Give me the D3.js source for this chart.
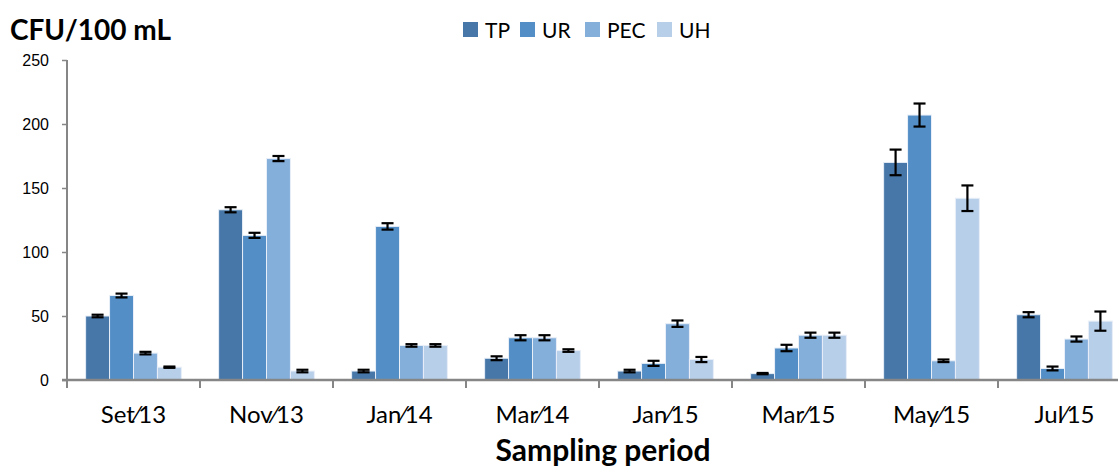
<!DOCTYPE html>
<html>
<head>
<meta charset="utf-8">
<script src="https://cdn.jsdelivr.net/npm/d3@7"></script>
<style>
  body { margin: 0; background: #fff; }
  svg { display: block; font-family: Lato, "Open Sans", sans-serif; }
</style>
</head>
<body>
<svg id="chart"></svg>
<script>
const periods = ['Set\u204413', 'Nov\u204413', 'Jan\u204414', 'Mar\u204414', 'Jan\u204415', 'Mar\u204415', 'May\u204415', 'Jul\u204415'];
const seriesNames = ['TP', 'UR', 'PEC', 'UH'];
const colors = ['#4677a8', '#538fc6', '#85afdb', '#b8cfe9'];

const tpValues  = [50, 133, 7, 17, 7, 5, 170, 51];
const urValues  = [66, 113, 120, 33, 13, 25, 207, 9];
const pecValues = [21, 173, 27, 33, 44, 35, 15, 32];
const uhValues  = [10, 7, 27, 23, 16, 35, 142, 46];

const tpErr  = [1, 2, 1, 1.5, 1, 0.5, 10, 2];
const urErr  = [1.5, 2, 2.5, 2, 2, 2.5, 9, 1.5];
const pecErr = [1, 2, 1, 2, 2.5, 2, 1, 2];
const uhErr  = [0.5, 1, 1, 1, 2, 2, 10, 7.5];

const yTicks = [0, 50, 100, 150, 200, 250];

const allValues = [tpValues, urValues, pecValues, uhValues];
const allErrors = [tpErr, urErr, pecErr, uhErr];

const width = 1118, height = 466;
const margin = { left: 67, top: 60, bottom: 86 };
const bandW = 133;

const svg = d3.select('#chart')
    .attr('width', width)
    .attr('height', height);

const x = d3.scaleBand()
    .domain(periods)
    .range([margin.left, margin.left + bandW * periods.length])
    .paddingInner(0.28)
    .paddingOuter(0.14);

const xSub = d3.scaleBand()
    .domain(seriesNames)
    .range([0, x.bandwidth()]);

const y = d3.scaleLinear()
    .domain([0, 250])
    .range([height - margin.bottom, margin.top]);

// flatten into one record per bar
const bars = [];
periods.forEach((p, i) => {
    seriesNames.forEach((s, j) => {
        bars.push({ period: p, series: s, idx: j, value: allValues[j][i], err: allErrors[j][i] });
    });
});

svg.append('g')
    .selectAll('rect')
    .data(bars)
    .enter()
    .append('rect')
    .attr('x', d => x(d.period) + xSub(d.series))
    .attr('y', d => y(d.value))
    .attr('width', xSub.bandwidth())
    .attr('height', d => y(0) - y(d.value))
    .attr('fill', d => colors[d.idx])
    .attr('stroke', '#e8eff8')
    .attr('stroke-width', 1);

// error bars
const eb = svg.append('g')
    .attr('stroke', '#000')
    .attr('stroke-width', 2.2)
    .selectAll('g')
    .data(bars)
    .enter()
    .append('g')
    .attr('transform', d => `translate(${x(d.period) + xSub(d.series) + xSub.bandwidth() / 2},0)`);

eb.append('line')
    .attr('y1', d => y(d.value + d.err))
    .attr('y2', d => y(d.value - d.err));
eb.append('line')
    .attr('x1', -6).attr('x2', 6)
    .attr('y1', d => y(d.value + d.err))
    .attr('y2', d => y(d.value + d.err));
eb.append('line')
    .attr('x1', -6).attr('x2', 6)
    .attr('y1', d => y(d.value - d.err))
    .attr('y2', d => y(d.value - d.err));

// y axis
const yAxis = svg.append('g')
    .attr('transform', `translate(${margin.left},0)`)
    .call(d3.axisLeft(y).tickValues(yTicks).tickSize(5).tickPadding(13));
yAxis.select('.domain').attr('stroke', '#868686').attr('stroke-width', 2)
    .attr('d', `M0,${y(250)}V${y(0)}`);
yAxis.selectAll('.tick line').attr('stroke', '#868686').attr('stroke-width', 1.5);
yAxis.selectAll('.tick text').attr('font-size', 16).attr('fill', '#000');

// x axis
const xAxis = svg.append('g')
    .attr('transform', `translate(0,${y(0)})`);
xAxis.append('line')
    .attr('x1', margin.left - 5)
    .attr('x2', margin.left + bandW * periods.length)
    .attr('stroke', '#868686')
    .attr('stroke-width', 2.5);
xAxis.selectAll('.sep')
    .data(d3.range(periods.length + 1))
    .enter()
    .append('line')
    .attr('x1', i => margin.left + i * bandW)
    .attr('x2', i => margin.left + i * bandW)
    .attr('y1', 0).attr('y2', 8)
    .attr('stroke', '#868686')
    .attr('stroke-width', 2);
xAxis.selectAll('.lbl')
    .data(periods)
    .enter()
    .append('text')
    .attr('x', d => x(d) + x.bandwidth() / 2)
    .attr('y', 43)
    .attr('text-anchor', 'middle')
    .attr('font-size', 24)
    .text(d => d);

// titles
svg.append('text')
    .attr('x', 10).attr('y', 40)
    .attr('font-size', 28)
    .attr('font-weight', 'bold')
    .text('CFU/100 mL');

svg.append('text')
    .attr('x', 603).attr('y', 461)
    .attr('text-anchor', 'middle')
    .attr('font-size', 30)
    .attr('font-weight', 'bold')
    .text('Sampling period');

// legend
const legendX = [463, 520, 585, 657];
const legend = svg.append('g')
    .selectAll('g')
    .data(seriesNames)
    .enter()
    .append('g')
    .attr('transform', (d, i) => `translate(${legendX[i]},22)`);
legend.append('rect')
    .attr('width', 15).attr('height', 15)
    .attr('fill', (d, i) => colors[i]);
legend.append('text')
    .attr('x', 22).attr('y', 16)
    .attr('font-size', 21)
    .text(d => d);
</script>
</body>
</html>
